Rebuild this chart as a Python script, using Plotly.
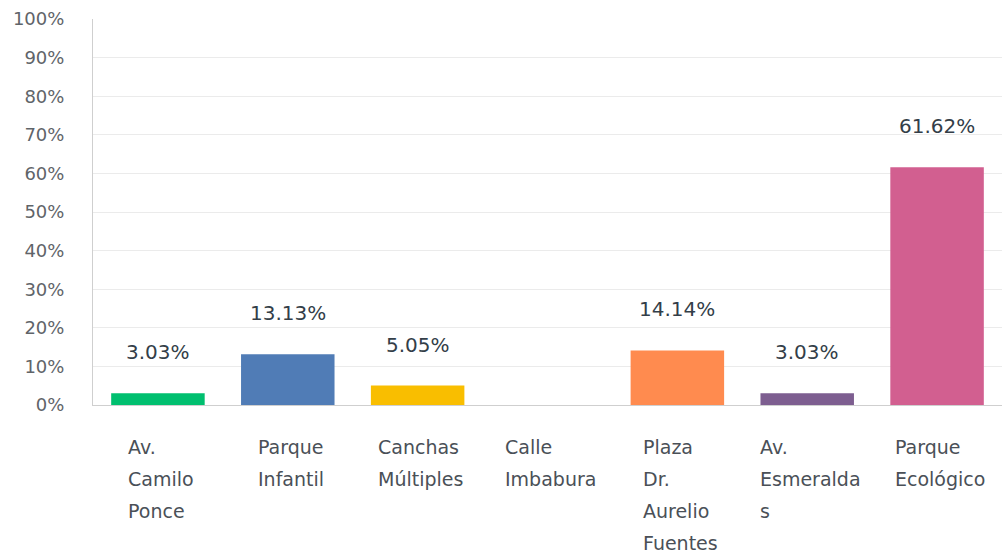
import plotly.graph_objects as go

categories = ["Av. Camilo Ponce", "Parque Infantil", "Canchas Múltiples", "Calle Imbabura",
              "Plaza Dr. Aurelio Fuentes", "Av. Esmeraldas", "Parque Ecológico"]
label_lines = [["Av.", "Camilo", "Ponce"], ["Parque", "Infantil"], ["Canchas", "Múltiples"],
               ["Calle", "Imbabura"], ["Plaza", "Dr.", "Aurelio", "Fuentes"],
               ["Av.", "Esmeralda", "s"], ["Parque", "Ecológico"]]
values = [3.03, 13.13, 5.05, 0.0, 14.14, 3.03, 61.62]
colors = ["#00BF6F", "#507CB6", "#F9BE00", "#6BC8CD", "#FF8B4F", "#7D5E90", "#D25F90"]
y_ticks = list(range(0, 101, 10))
y_tick_text = [f"{v}%" for v in y_ticks]

FONT = "DejaVu Sans"

fig = go.Figure()
fig.add_trace(go.Bar(x=categories, y=values, marker=dict(color=colors, line=dict(width=0)),
                     hoverinfo="skip"))

annotations = []
for c, v in zip(categories, values):
    if v > 0:
        annotations.append(dict(x=c, y=v, xref="x", yref="y", text=f"{v:.2f}%",
                                showarrow=False, yshift=41, yanchor="middle",
                                font=dict(family=FONT, size=20, color="#333E48")))
for c, lines in zip(categories, label_lines):
    txt = "<br>".join(f"<span style='font-size:19px'>{ln}</span>" for ln in lines)
    annotations.append(dict(x=c, y=0, xref="x", yref="paper", text=txt, showarrow=False,
                            xanchor="center", yanchor="top", align="left", xshift=3, yshift=-29,
                            font=dict(family=FONT, size=24.6, color="#4A5057")))

fig.update_layout(
    width=1002, height=554,
    margin=dict(l=93, r=0, t=19, b=149),
    paper_bgcolor="white", plot_bgcolor="white",
    showlegend=False,
    bargap=0.28,
    annotations=annotations,
    xaxis=dict(showticklabels=False, showline=True, linecolor="#CFCFCF", linewidth=1,
               range=[-0.5, 6.5], fixedrange=True),
    yaxis=dict(range=[0, 100], tickvals=y_ticks, ticktext=y_tick_text, showgrid=True,
               gridcolor="#EBEBEB", gridwidth=1, showline=True, linecolor="#CFCFCF",
               linewidth=1, ticks="outside", ticklen=24, tickcolor="rgba(0,0,0,0)",
               tickfont=dict(family=FONT, size=18, color="#5F6469"), zeroline=False),
)

fig.write_html("out.html", config={"displayModeBar": False},
               post_script="document.body.style.margin='0px';")
